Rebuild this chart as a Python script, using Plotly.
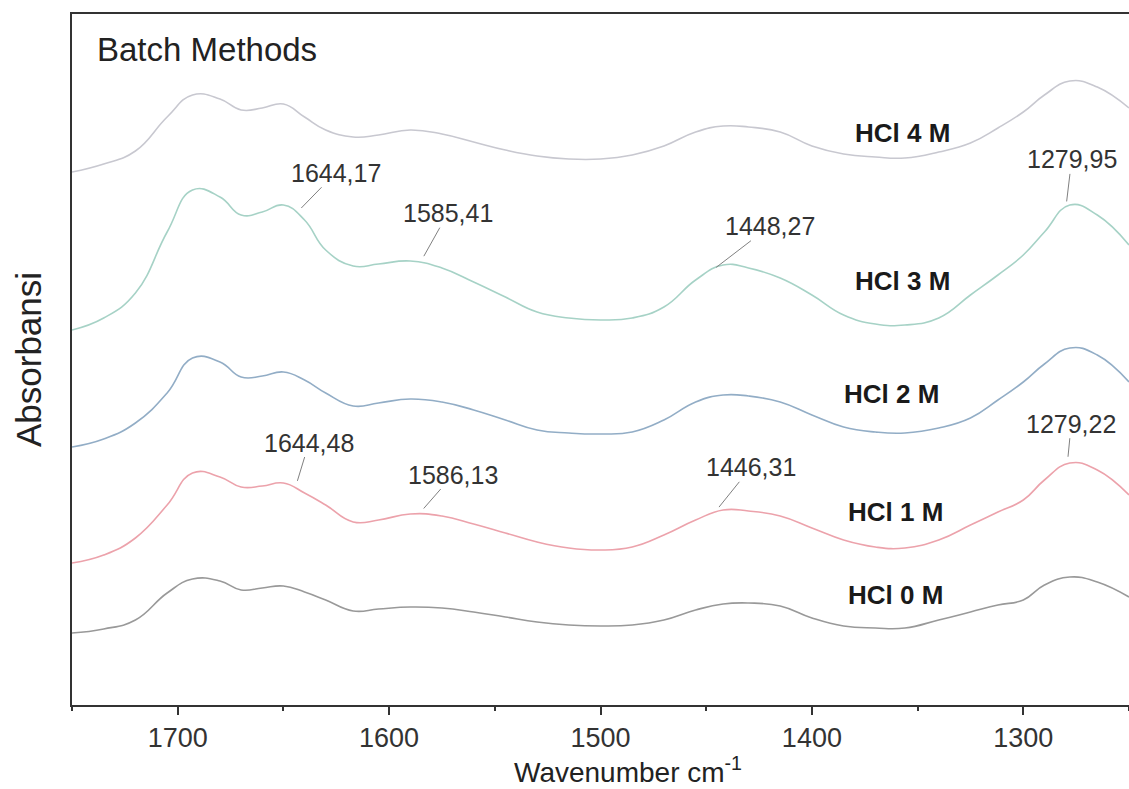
import numpy as np
import plotly.graph_objects as go

# ---------------- data ----------------
wavenumber = [1750, 1735, 1720, 1705, 1693, 1680, 1670, 1660, 1650, 1640,
              1630, 1617, 1605, 1590, 1575, 1560, 1545, 1530, 1515, 1500,
              1485, 1470, 1455, 1442, 1430, 1415, 1400, 1385, 1370, 1356,
              1340, 1325, 1312, 1300, 1290, 1278, 1265, 1250]

hcl_4m = [5.33, 5.41, 5.54, 5.88, 6.10, 6.06, 5.95, 5.97, 6.01, 5.88,
          5.75, 5.68, 5.70, 5.75, 5.71, 5.63, 5.55, 5.49, 5.46, 5.46,
          5.50, 5.59, 5.73, 5.79, 5.78, 5.73, 5.59, 5.51, 5.48, 5.47,
          5.53, 5.62, 5.77, 5.93, 6.10, 6.24, 6.18, 5.97]

hcl_3m = [3.75, 3.87, 4.12, 4.73, 5.15, 5.08, 4.90, 4.93, 5.00, 4.85,
          4.55, 4.39, 4.41, 4.44, 4.37, 4.23, 4.08, 3.93, 3.87, 3.85,
          3.87, 3.98, 4.25, 4.40, 4.37, 4.27, 4.10, 3.90, 3.81, 3.80,
          3.87, 4.10, 4.30, 4.50, 4.73, 5.00, 4.90, 4.60]

hcl_2m = [2.58, 2.66, 2.82, 3.12, 3.47, 3.43, 3.28, 3.29, 3.33, 3.25,
          3.12, 2.99, 3.02, 3.06, 3.03, 2.95, 2.85, 2.75, 2.72, 2.71,
          2.73, 2.85, 3.03, 3.10, 3.09, 3.03, 2.90, 2.78, 2.73, 2.72,
          2.77, 2.87, 3.05, 3.23, 3.41, 3.57, 3.50, 3.23]

hcl_1m = [1.42, 1.50, 1.67, 2.00, 2.32, 2.28, 2.18, 2.19, 2.22, 2.12,
          2.00, 1.83, 1.85, 1.91, 1.89, 1.81, 1.72, 1.63, 1.57, 1.55,
          1.58, 1.70, 1.85, 1.95, 1.94, 1.89, 1.77, 1.65, 1.58, 1.57,
          1.65, 1.80, 1.93, 2.05, 2.25, 2.42, 2.35, 2.10]

hcl_0m = [0.72, 0.76, 0.85, 1.12, 1.26, 1.24, 1.15, 1.17, 1.19, 1.13,
          1.05, 0.94, 0.96, 0.98, 0.97, 0.93, 0.88, 0.83, 0.80, 0.79,
          0.80, 0.85, 0.95, 1.01, 1.02, 0.99, 0.87, 0.79, 0.77, 0.77,
          0.85, 0.93, 1.00, 1.05, 1.20, 1.28, 1.23, 1.08]

series_names = ["HCl 4 M", "HCl 3 M", "HCl 2 M", "HCl 1 M", "HCl 0 M"]
series_values = [hcl_4m, hcl_3m, hcl_2m, hcl_1m, hcl_0m]

# peak labels: (series index, wavenumber, text)
peak_series = [1, 1, 1, 1, 3, 3, 3, 3]
peak_wn = [1644.17, 1585.41, 1448.27, 1279.95, 1644.48, 1586.13, 1446.31, 1279.22]
peak_text = ["1644,17", "1585,41", "1448,27", "1279,95",
             "1644,48", "1586,13", "1446,31", "1279,22"]

x_ticks = [1700, 1600, 1500, 1400, 1300]
x_minor_ticks = [1750, 1650, 1550, 1450, 1350, 1250]

# ---------------- styles ----------------
colors = ["#c8c8d0", "#a6d2c6", "#92adc6", "#eca2ab", "#999999"]
font_family = "Arial, Liberation Sans, sans-serif"

# label placement (wavenumber, absorbance) for series names
label_pos = [(1357, 5.72), (1357, 4.24), (1362.5, 3.11), (1360.5, 1.93), (1360.5, 1.10)]
# pixel offsets for peak labels (ax, ay)
peak_offsets = [(40, -41), (28, -50), (60, -46), (6, -50),
                (14, -46), (35, -40), (37, -46), (4, -41)]

fig = go.Figure()
for name, vals, col in zip(series_names, series_values, colors):
    fig.add_trace(go.Scatter(
        x=wavenumber, y=vals, mode="lines", name=name,
        line=dict(color=col, width=1.6, shape="spline", smoothing=1.3),
        showlegend=False))

annotations = []
for (lx, ly), name in zip(label_pos, series_names):
    annotations.append(dict(
        x=lx, y=ly, xref="x", yref="y", text="<b>" + name + "</b>",
        showarrow=False, font=dict(family=font_family, size=26, color="#1a1a1a")))

wn_arr = np.array(wavenumber)[::-1]
for si, wn, txt, (ax, ay) in zip(peak_series, peak_wn, peak_text, peak_offsets):
    yv = float(np.interp(wn, wn_arr, np.array(series_values[si])[::-1]))
    annotations.append(dict(
        x=wn, y=yv, xref="x", yref="y", text=txt,
        showarrow=True, arrowhead=0, arrowwidth=1, arrowcolor="#808080",
        ax=ax, ay=ay, standoff=8, borderpad=0,
        font=dict(family=font_family, size=25, color="#333333")))

annotations.append(dict(
    x=0.022, y=0.949, xref="paper", yref="paper", xanchor="left", yanchor="middle",
    text="Batch Methods", showarrow=False,
    font=dict(family=font_family, size=33, color="#222222")))

# x-axis title drawn as an annotation so it can sit slightly right of centre
annotations.append(dict(
    x=0.526, y=-0.0935, xref="paper", yref="paper", xanchor="center", yanchor="middle",
    text="Wavenumber cm<sup>-1</sup>", showarrow=False, borderpad=0,
    font=dict(family=font_family, size=28, color="#222222")))

fig.update_layout(
    width=1129, height=789,
    margin=dict(l=72, r=0, t=14, b=84),
    paper_bgcolor="white", plot_bgcolor="white",
    annotations=annotations,
    font=dict(family=font_family),
    xaxis=dict(
        range=[1750, 1250], tickvals=x_ticks,
        ticks="outside", ticklen=8, tickwidth=2, tickcolor="#333333",
        minor=dict(tickvals=x_minor_ticks,
                   ticks="outside", ticklen=4, tickwidth=2, tickcolor="#333333"),
        showline=True, linecolor="#333333", linewidth=2, mirror=True,
        showgrid=False, zeroline=False,
        tickfont=dict(family=font_family, size=27, color="#333333"),
    ),
    yaxis=dict(
        range=[0, 6.91], showticklabels=False, ticks="",
        showline=True, linecolor="#333333", linewidth=2,
        showgrid=False, zeroline=False,
        title=dict(text="Absorbansi", standoff=18,
                   font=dict(family=font_family, size=35, color="#222222")),
    ),
)

fig.write_html("out.html")
